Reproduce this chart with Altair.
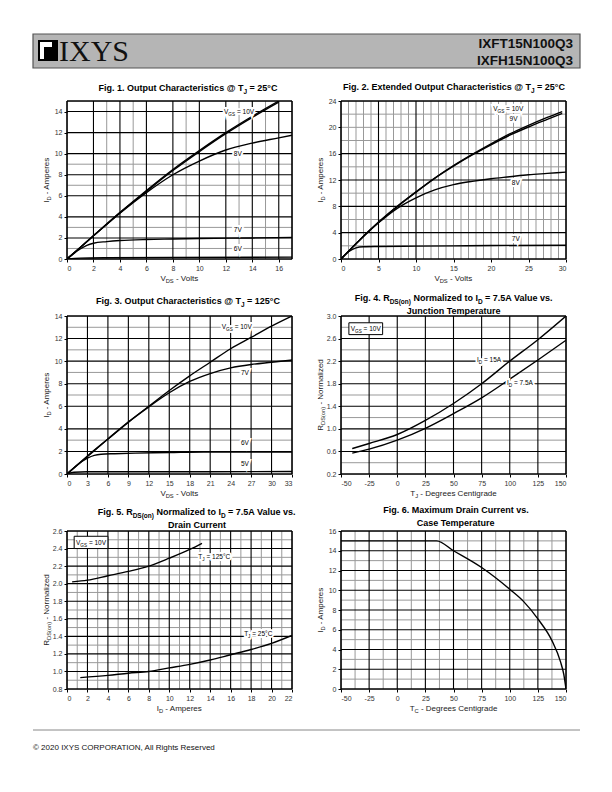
import altair as alt
import pandas as pd

FONT = "Liberation Sans"

# ---------------- data ----------------
# Fig 1  (Tj = 25C)
f1_10_x = [0, 1, 2, 4, 6, 8, 10, 12, 14, 16]
f1_10_y = [0, 1.1, 2.2, 4.4, 6.5, 8.5, 10.3, 12.0, 13.55, 15.0]
f1_9_x = [0, 1, 2, 4, 6, 8, 10, 12, 14, 16]
f1_9_y = [0, 1.1, 2.2, 4.4, 6.42, 8.4, 10.2, 11.9, 13.45, 14.9]
f1_8_x = [0, 1, 2, 4, 6, 8, 10, 12, 14, 16, 17]
f1_8_y = [0, 1.1, 2.2, 4.35, 6.3, 8.0, 9.3, 10.35, 11.0, 11.5, 11.75]
f1_7_x = [0, 0.5, 1, 1.5, 2, 3, 4, 6, 8, 10, 14, 17]
f1_7_y = [0, 0.5, 0.95, 1.3, 1.5, 1.65, 1.75, 1.85, 1.9, 1.95, 2.0, 2.05]
f1_6_x = [0, 1, 3, 8, 17]
f1_6_y = [0, 0.08, 0.12, 0.15, 0.18]

# Fig 2  (Tj = 25C, extended)
f2_10_x = [0, 2.5, 5, 7.5, 10, 12.5, 15, 17.5, 20, 22.5, 25, 27.5, 29.5]
f2_10_y = [0, 2.9, 5.6, 8.0, 10.2, 12.3, 14.2, 15.9, 17.5, 19.0, 20.3, 21.5, 22.4]
f2_9_x = [0, 2.5, 5, 7.5, 10, 12.5, 15, 17.5, 20, 22.5, 25, 27.5, 29.5]
f2_9_y = [0, 2.9, 5.55, 7.95, 10.15, 12.25, 14.1, 15.8, 17.35, 18.8, 20.05, 21.2, 22.1]
f2_8_x = [0, 2.5, 5, 7.5, 10, 12.5, 15, 17.5, 20, 22.5, 25, 27.5, 30]
f2_8_y = [0, 2.9, 5.5, 7.7, 9.3, 10.5, 11.3, 11.8, 12.2, 12.5, 12.8, 13.0, 13.2]
f2_7_x = [0, 1, 2, 3, 5, 10, 15, 20, 30]
f2_7_y = [0, 1.1, 1.7, 1.85, 1.9, 1.95, 2.0, 2.05, 2.1]

# Fig 3  (Tj = 125C)
f3_10_x = [0, 3, 6, 9, 12, 15, 18, 21, 24, 27, 30, 33]
f3_10_y = [0, 1.6, 3.1, 4.6, 6.0, 7.4, 8.7, 9.9, 11.1, 12.1, 13.1, 14.0]
f3_7_x = [0, 3, 6, 9, 12, 15, 18, 21, 24, 27, 30, 33]
f3_7_y = [0, 1.55, 3.1, 4.6, 5.95, 7.2, 8.2, 8.9, 9.4, 9.7, 9.9, 10.1]
f3_6_x = [0, 1.5, 3, 4, 5, 7, 10, 15, 20, 33]
f3_6_y = [0, 0.8, 1.4, 1.65, 1.75, 1.8, 1.85, 1.9, 1.95, 1.95]
f3_5_x = [0, 1, 3, 10, 33]
f3_5_y = [0, 0.15, 0.2, 0.2, 0.22]

# Fig 4  RDS(on) vs Tj
f4_t = [-40, -25, 0, 25, 50, 75, 100, 125, 150]
f4_15 = [0.65, 0.74, 0.9, 1.15, 1.45, 1.8, 2.2, 2.58, 3.0]
f4_75 = [0.57, 0.64, 0.8, 1.01, 1.27, 1.55, 1.88, 2.22, 2.57]

# Fig 5  RDS(on) vs ID
f5_125_x = [0.5, 2, 4, 6, 8, 10, 12, 13.2]
f5_125_y = [2.02, 2.04, 2.09, 2.14, 2.2, 2.29, 2.39, 2.46]
f5_25_x = [1.3, 4, 6, 8, 10, 12, 14, 16, 18, 20, 22]
f5_25_y = [0.93, 0.955, 0.98, 1.0, 1.04, 1.08, 1.13, 1.19, 1.25, 1.32, 1.41]

# Fig 6  max drain current vs Tc
f6_t = [-50, 35, 50, 75, 100, 112, 125, 137.5, 145, 148, 150]
f6_i = [15, 15, 14.0, 12.3, 10.1, 8.9, 7.1, 4.9, 2.8, 1.5, 0]

# page texts  (segments: (text, is_subscript))
part_numbers = ["IXFT15N100Q3", "IXFH15N100Q3"]
logo_text = "IXYS"
copyright_text = "© 2020 IXYS CORPORATION,  All Rights Reserved"

T1 = [[("Fig. 1. Output Characteristics @ T", 0), ("J", 1), (" = 25°C", 0)]]
T2 = [[("Fig. 2. Extended Output Characteristics @ T", 0), ("J", 1), (" = 25°C", 0)]]
T3 = [[("Fig. 3. Output Characteristics @ T", 0), ("J", 1), (" = 125°C", 0)]]
T4 = [[("Fig. 4. R", 0), ("DS(on)", 1), (" Normalized to I", 0), ("D", 1),
       (" = 7.5A Value vs.", 0)], [("Junction Temperature", 0)]]
T5 = [[("Fig. 5. R", 0), ("DS(on)", 1), (" Normalized to I", 0), ("D", 1),
       (" = 7.5A Value vs.", 0)], [("Drain Current", 0)]]
T6 = [[("Fig. 6. Maximum Drain Current vs.", 0)], [("Case Temperature", 0)]]

A_VDS = [("V", 0), ("DS", 1), (" - Volts", 0)]
A_ID = [("I", 0), ("D", 1), (" - Amperes", 0)]
A_RDS = [("R", 0), ("DS(on)", 1), (" - Normalized", 0)]
A_TJ = [("T", 0), ("J", 1), (" - Degrees Centigrade", 0)]
A_TC = [("T", 0), ("C", 1), (" - Degrees Centigrade", 0)]

VGS10 = [("V", 0), ("GS", 1), (" = 10V", 0)]

MINUS_FIX = "replace(datum.label, '\u2212', '-')"

# ---------------- text metrics (Arial / Liberation Sans, per 1000 em) ----------------
_REG = {' ': 278, '!': 278, '(': 333, ')': 333, '-': 333, '.': 278,
        ',': 278, '=': 584, '@': 1015, '°': 400, 'A': 667, 'B': 667, 'C': 722, 'D': 722,
        'E': 667, 'F': 611, 'G': 778, 'H': 722, 'I': 278, 'J': 500, 'K': 667, 'L': 556,
        'M': 833, 'N': 722, 'O': 778, 'P': 667, 'Q': 778, 'R': 722, 'S': 667, 'T': 611,
        'U': 722, 'V': 667, 'W': 944, 'X': 667, 'Y': 667, 'Z': 611, 'a': 556, 'b': 556,
        'c': 500, 'd': 556, 'e': 556, 'f': 278, 'g': 556, 'h': 556, 'i': 222, 'j': 222,
        'k': 500, 'l': 222, 'm': 833, 'n': 556, 'o': 556, 'p': 556, 'q': 556, 'r': 333,
        's': 500, 't': 278, 'u': 556, 'v': 500, 'w': 722, 'x': 500, 'y': 500, 'z': 500}
_BOLD = {' ': 278, '!': 333, '(': 333, ')': 333, '-': 333, '.': 278,
         ',': 278, '=': 584, '@': 975, '°': 400, 'A': 722, 'B': 722, 'C': 722, 'D': 722,
         'E': 667, 'F': 611, 'G': 778, 'H': 722, 'I': 278, 'J': 556, 'K': 722, 'L': 611,
         'M': 833, 'N': 722, 'O': 778, 'P': 667, 'Q': 778, 'R': 722, 'S': 667, 'T': 611,
         'U': 722, 'V': 667, 'W': 944, 'X': 667, 'Y': 667, 'Z': 611, 'a': 556, 'b': 611,
         'c': 556, 'd': 611, 'e': 556, 'f': 333, 'g': 611, 'h': 611, 'i': 278, 'j': 278,
         'k': 556, 'l': 278, 'm': 889, 'n': 611, 'o': 611, 'p': 611, 'q': 611, 'r': 389,
         's': 556, 't': 333, 'u': 611, 'v': 556, 'w': 778, 'x': 556, 'y': 556, 'z': 500}


def twidth(t, size, bold):
    tab = _BOLD if bold else _REG
    return sum(tab.get(c, 556) for c in t) * size / 1000.0


one = pd.DataFrame({"k": [0]})


def rich(segs, size, bold=False, x=None, y=None, df=None, align="center", angle=None,
         vshift=0.0, halo=False, color="black"):
    """Text with subscripts, built of adjacent text marks (blanks become offsets)."""
    sub = size * 0.72
    sizes = [sub if s else size for _, s in segs]
    widths = [twidth(t, fs, bold) for (t, _), fs in zip(segs, sizes)]
    total = sum(widths)
    cur = {"left": 0.0, "center": -total / 2.0, "right": -total}[align]
    data = one if df is None else df
    out = []
    passes = [True, False] if halo else [False]
    for hp in passes:
        c = cur
        for (t, s), fs, w in zip(segs, sizes, widths):
            lead = len(t) - len(t.lstrip(" "))
            off = twidth(" " * lead, fs, bold)
            kw = dict(font=FONT, fontSize=fs, fontWeight="bold" if bold else "normal",
                      align="left", baseline="alphabetic", dx=round(c + off, 2),
                      dy=round(vshift + (size * 0.3 if s else 0.0), 2))
            if angle is not None:
                kw["angle"] = angle
            if hp:
                kw.update(color="white", stroke="white", strokeWidth=4)
            else:
                kw.update(color=color)
            out.append(alt.Chart(data.assign(t=t.strip(" "))).mark_text(**kw).encode(
                x=x, y=y, text="t:N"))
            c += w
    return out


def title_layers(lines, cx, by):
    out = []
    for i, line in enumerate(lines):
        out += rich(line, 9, bold=True, x=alt.value(cx), y=alt.value(by + 12.5 * i))
    return out


def header_layers():
    # drawn relative to Fig.1 plot origin
    return [
        alt.Chart(one).mark_rect(fill="#b5b5b5", stroke="#555", strokeWidth=1.2).encode(
            x=alt.value(-34), x2=alt.value(513), y=alt.value(-67), y2=alt.value(-33)),
        alt.Chart(one).mark_rect(fill="black").encode(
            x=alt.value(-29), x2=alt.value(-9), y=alt.value(-61), y2=alt.value(-40)),
        alt.Chart(one).mark_rect(fill="white").encode(
            x=alt.value(-27), x2=alt.value(-15), y=alt.value(-59), y2=alt.value(-54)),
        alt.Chart(one).mark_rect(fill="white").encode(
            x=alt.value(-27), x2=alt.value(-23), y=alt.value(-54), y2=alt.value(-42)),
        alt.Chart(pd.DataFrame({"t": [logo_text]})).mark_text(
            font="Liberation Serif", fontSize=30, align="left", baseline="alphabetic",
            color="#111").encode(x=alt.value(-8), y=alt.value(-40), text="t:N"),
        alt.Chart(pd.DataFrame({"t": [part_numbers[0]]})).mark_text(
            font=FONT, fontSize=13.5, fontWeight="bold", align="right",
            baseline="alphabetic", color="#111").encode(
            x=alt.value(506), y=alt.value(-53), text="t:N"),
        alt.Chart(pd.DataFrame({"t": [part_numbers[1]]})).mark_text(
            font=FONT, fontSize=13.5, fontWeight="bold", align="right",
            baseline="alphabetic", color="#111").encode(
            x=alt.value(506), y=alt.value(-36), text="t:N"),
    ]


def footer_layers():
    # drawn relative to Fig.5 plot origin
    return [
        alt.Chart(one).mark_rule(color="#888", strokeWidth=1).encode(
            x=alt.value(-34), x2=alt.value(513), y=alt.value(199)),
        alt.Chart(pd.DataFrame({"t": [copyright_text]})).mark_text(
            font=FONT, fontSize=8, align="left", baseline="alphabetic", color="#111").encode(
            x=alt.value(-34), y=alt.value(219), text="t:N"),
    ]


def series(pairs):
    rows = []
    for name, xs, ys in pairs:
        for a, b in zip(xs, ys):
            rows.append({"x": a, "y": b, "s": name})
    return pd.DataFrame(rows)


def panel(df, xdom, ydom, xt, yt, xmaj, xmin, ymaj, ymin, title, tpos, xtitle, ytitle,
          w, h, labels=None, box=None, yfmt="d", extra=None):
    xs = alt.Scale(domain=xdom, nice=False, zero=False)
    ys = alt.Scale(domain=ydom, nice=False, zero=False)
    ax = dict(grid=False, domain=False, ticks=True, tickSize=3, tickColor="black",
              labelFontSize=7, labelColor="#333", labelFont=FONT, labelPadding=2,
              title="")
    xa = alt.Axis(values=xt, format="d", labelExpr=MINUS_FIX, **ax)
    ya = alt.Axis(values=yt, format=yfmt, **ax)

    def X(f):
        return alt.X(f, scale=xs, axis=xa)

    def Y(f):
        return alt.Y(f, scale=ys, axis=ya)

    def vr(vals, color, width):
        return alt.Chart(pd.DataFrame({"v": vals})).mark_rule(
            color=color, strokeWidth=width).encode(x=X("v:Q"))

    def hr(vals, color, width):
        return alt.Chart(pd.DataFrame({"v": vals})).mark_rule(
            color=color, strokeWidth=width).encode(y=Y("v:Q"))

    layers = []
    if xmin:
        layers.append(vr(xmin, "#999", 1))
    if ymin:
        layers.append(hr(ymin, "#999", 1))
    layers.append(vr(xmaj, "black", 1.1))
    layers.append(hr(ymaj, "black", 1.1))
    layers.append(vr(list(xdom), "black", 1.6))
    layers.append(hr(list(ydom), "black", 1.6))
    layers.append(alt.Chart(df).mark_line(color="black", strokeWidth=1.4,
                                          interpolate="monotone", clip=True).encode(
        x=X("x:Q"), y=Y("y:Q"), detail="s:N"))
    if box is not None:
        bdf = pd.DataFrame([box])
        layers.append(alt.Chart(bdf).mark_rect(fill="white", stroke="black",
                                               strokeWidth=1).encode(
            x=X("x1:Q"), x2="x2:Q", y=Y("y1:Q"), y2="y2:Q"))
        layers += rich(VGS10, 6.5, x=X("xc:Q"), y=Y("yc:Q"),
                       df=bdf[["xc", "yc"]], vshift=2.2)
    if labels is not None:
        for lx, ly, segs in labels:
            ldf = pd.DataFrame({"x": [lx], "y": [ly]})
            layers += rich(segs, 6.5, x=X("x:Q"), y=Y("y:Q"), df=ldf, vshift=2.2,
                           halo=True)
    # figure title and axis titles
    layers += title_layers(title, tpos[0], tpos[1])
    layers += rich(xtitle, 8, x=alt.value(w / 2.0), y=alt.value(h + 22), color="#222")
    layers += rich(ytitle, 8, x=alt.value(-18), y=alt.value(h / 2.0), angle=270,
                   color="#222")
    if extra:
        layers.extend(extra)
    return alt.layer(*layers).properties(width=w, height=h)


W = 225

fig1 = panel(series([("10V", f1_10_x, f1_10_y), ("9V", f1_9_x, f1_9_y),
                     ("8V", f1_8_x, f1_8_y), ("7V", f1_7_x, f1_7_y),
                     ("6V", f1_6_x, f1_6_y)]),
             [0, 17], [0, 15], list(range(0, 17, 2)), list(range(0, 15, 2)),
             list(range(2, 17, 2)), [3, 5, 9, 13, 15],
             list(range(2, 15, 2)), [1, 3, 7, 9],
             T1, (121, -10), A_VDS, A_ID, W, 158,
             labels=[(13.0, 14.0, VGS10), (12.9, 10.0, [("8V", 0)]),
                     (12.9, 2.75, [("7V", 0)]), (12.9, 0.95, [("6V", 0)])],
             extra=header_layers())

fig2 = panel(series([("10V", f2_10_x, f2_10_y), ("9V", f2_9_x, f2_9_y),
                     ("8V", f2_8_x, f2_8_y), ("7V", f2_7_x, f2_7_y)]),
             [0, 30], [0, 24], list(range(0, 31, 5)), list(range(0, 25, 4)),
             [5, 10], [v for v in range(1, 30) if v not in (5, 10)],
             [4, 8, 12, 16], [2, 6, 10, 14, 18, 20, 22],
             T2, (113, -11), A_VDS, A_ID, W, 158,
             labels=[(22.3, 22.8, VGS10), (23.0, 21.3, [("9V", 0)]),
                     (23.3, 11.5, [("8V", 0)]), (23.3, 3.1, [("7V", 0)])])

fig3 = panel(series([("10V", f3_10_x, f3_10_y), ("7V", f3_7_x, f3_7_y),
                     ("6V", f3_6_x, f3_6_y), ("5V", f3_5_x, f3_5_y)]),
             [0, 33], [0, 14], list(range(0, 34, 3)), list(range(0, 15, 2)),
             list(range(3, 31, 3)), [],
             list(range(2, 13, 2)), [3, 7, 9, 11, 13],
             T3, (121, -12), A_VDS, A_ID, W, 158,
             labels=[(24.9, 13.0, VGS10), (26.1, 9.0, [("7V", 0)]),
                     (26.1, 2.8, [("6V", 0)]), (26.1, 0.9, [("5V", 0)])])

fig4 = panel(series([("15A", f4_t, f4_15), ("7.5A", f4_t, f4_75)]),
             [-50, 150], [0.2, 3.0], list(range(-50, 151, 25)),
             [0.2, 0.6, 1.0, 1.4, 1.8, 2.2, 2.6, 3.0],
             list(range(-25, 126, 25)), [],
             [0.6, 1.0, 1.4, 1.8, 2.2, 2.6], [0.4, 0.8, 1.2, 1.6, 2.0, 2.4, 2.8],
             T4, (113, -15), A_TJ, A_RDS, W, 158,
             labels=[(81.6, 2.23, [("I", 0), ("D", 1), (" = 15A", 0)]),
                     (109, 1.81, [("I", 0), ("D", 1), (" = 7.5A", 0)])],
             box={"x1": -43, "x2": -13, "y1": 2.88, "y2": 2.67, "xc": -28, "yc": 2.775},
             yfmt=".1f")

fig5 = panel(series([("125", f5_125_x, f5_125_y), ("25", f5_25_x, f5_25_y)]),
             [0, 22], [0.8, 2.6], list(range(0, 23, 2)),
             [0.8, 1.0, 1.2, 1.4, 1.6, 1.8, 2.0, 2.2, 2.4, 2.6],
             list(range(2, 21, 2)), list(range(1, 22, 2)),
             [1.0, 1.2, 1.4, 1.6, 1.8, 2.0, 2.2, 2.4],
             [0.9, 1.1, 1.3, 1.5, 1.7, 1.9, 2.1, 2.3, 2.5],
             T5, (130, -16), A_ID, A_RDS, W, 158,
             labels=[(14.4, 2.31, [("T", 0), ("J", 1), (" = 125°C", 0)]),
                     (18.7, 1.43, [("T", 0), ("J", 1), (" = 25°C", 0)])],
             box={"x1": 0.7, "x2": 4.0, "y1": 2.54, "y2": 2.40, "xc": 2.35, "yc": 2.47},
             yfmt=".1f", extra=footer_layers())

fig6 = panel(pd.DataFrame({"x": f6_t, "y": f6_i, "s": "max"}),
             [-50, 150], [0, 16], list(range(-50, 151, 25)), list(range(0, 17, 2)),
             list(range(-25, 126, 25)), [-37.5, -12.5, 12.5, 37.5, 62.5, 87.5, 112.5, 137.5],
             list(range(2, 15, 2)), list(range(1, 16, 2)),
             T6, (115, -18), A_TC, A_ID, W, 158)

chart = alt.concat(fig1, fig2, fig3, fig4, fig5, fig6, columns=2,
                   spacing={"row": 57, "column": 49}, bounds="flush").properties(
    padding={"left": 23, "top": 24, "right": 5, "bottom": 5},
    background="white",
).configure_view(stroke="transparent").configure(font=FONT)

chart.save("out.html", embed_options={"renderer": "svg", "actions": False})
